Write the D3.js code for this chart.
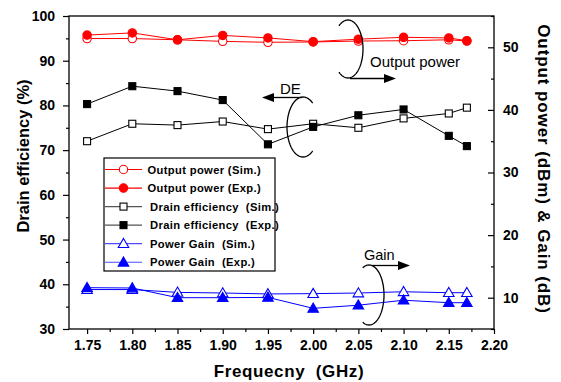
<!DOCTYPE html>
<html>
<head>
<meta charset="utf-8">
<script src="https://cdn.jsdelivr.net/npm/d3@7"></script>
<style>
  html, body { margin: 0; padding: 0; background: #fff; }
  svg { display: block; font-family: Arial, "Liberation Sans", sans-serif; }
  text { white-space: pre; }
</style>
</head>
<body>
<svg id="chart" width="561" height="382"></svg>
<script>
// Frequency points (GHz)
const freqs = [1.75, 1.80, 1.85, 1.90, 1.95, 2.00, 2.05, 2.10, 2.15, 2.17];

// Output power (dBm), right axis
const poutSim = [51.4, 51.4, 51.2, 50.95, 50.8, 50.85, 51.0, 51.05, 51.2, 51.0];
const poutExp = [51.95, 52.3, 51.2, 51.9, 51.5, 50.9, 51.3, 51.6, 51.5, 51.05];

// Drain efficiency (%), left axis
const deSim = [72.0, 75.9, 75.6, 76.4, 74.7, 75.9, 75.0, 77.1, 78.2, 79.5];
const deExp = [80.3, 84.3, 83.2, 81.2, 71.3, 75.2, 77.8, 79.1, 73.2, 70.9];

// Power gain (dB), right axis
const gainSim = [11.3, 11.3, 10.85, 10.75, 10.6, 10.65, 10.75, 10.95, 10.8, 10.8];
const gainExp = [11.6, 11.55, 10.0, 10.0, 10.05, 8.3, 8.8, 9.6, 9.2, 9.2];

// Tick values
const xTicks = [1.75, 1.80, 1.85, 1.90, 1.95, 2.00, 2.05, 2.10, 2.15, 2.20];
const xMinor = [1.775, 1.825, 1.875, 1.925, 1.975, 2.025, 2.075, 2.125, 2.175];
const yLeftTicks = [30, 40, 50, 60, 70, 80, 90, 100];
const yLeftMinor = [35, 45, 55, 65, 75, 85, 95];
const yRightTicks = [10, 20, 30, 40, 50];
const yRightMinor = [5, 15, 25, 35, 45, 55];

const legendLabels = [
  "Output power (Sim.)", "Output power (Exp.)",
  "Drain efficiency  (Sim.)", "Drain efficiency  (Exp.)",
  "Power Gain  (Sim.)", "Power Gain  (Exp.)"
];

const svg = d3.select("#chart");
const L = 69, R = 494, T = 16, B = 329;

const x = d3.scaleLinear().domain([1.73, 2.20]).range([L, R]);
const yL = d3.scaleLinear().domain([30, 100]).range([B, T]);
const yR = d3.scaleLinear().domain([5, 55]).range([B, T]);

const RED = "#ff0000", BLUE = "#0000ff";

// ---- axes ----
function styleAxis(g) {
  g.select(".domain").remove();
  g.selectAll("line").attr("stroke", "#000").attr("stroke-width", 1.2);
  g.selectAll("text").attr("font-size", 14).attr("font-weight", "bold").attr("fill", "#000");
}

svg.append("g").attr("transform", `translate(0,${B})`)
  .call(d3.axisBottom(x).tickValues(xTicks).tickFormat(d3.format(".2f")).tickSize(5).tickPadding(6))
  .call(styleAxis);
svg.append("g").attr("transform", `translate(0,${B})`)
  .call(d3.axisBottom(x).tickValues(xMinor).tickFormat("").tickSize(3))
  .call(styleAxis);

svg.append("g").attr("transform", `translate(${L},0)`)
  .call(d3.axisLeft(yL).tickValues(yLeftTicks).tickFormat(d3.format("d")).tickSize(6).tickPadding(8))
  .call(styleAxis);
svg.append("g").attr("transform", `translate(${L},0)`)
  .call(d3.axisLeft(yL).tickValues(yLeftMinor).tickFormat("").tickSize(3))
  .call(styleAxis);

svg.append("g").attr("transform", `translate(${R},0)`)
  .call(d3.axisRight(yR).tickValues(yRightTicks).tickFormat(d3.format("d")).tickSizeInner(-6).tickSizeOuter(0).tickPadding(9))
  .call(styleAxis);
svg.append("g").attr("transform", `translate(${R},0)`)
  .call(d3.axisRight(yR).tickValues(yRightMinor).tickFormat("").tickSizeInner(-3).tickSizeOuter(0))
  .call(styleAxis);

// plot frame
svg.append("rect").attr("x", L).attr("y", T).attr("width", R - L).attr("height", B - T)
  .attr("fill", "none").attr("stroke", "#000").attr("stroke-width", 1.3);

// ---- axis titles ----
svg.append("text")
  .attr("transform", `translate(29,156) rotate(-90)`)
  .attr("text-anchor", "middle").attr("font-size", 16.5).attr("font-weight", "bold")
  .text("Drain efficiency (%)");

svg.append("text")
  .attr("transform", `translate(538,169) rotate(90)`)
  .attr("text-anchor", "middle").attr("font-size", 17).attr("font-weight", "bold")
  .attr("letter-spacing", 0.9)
  .text("Output power (dBm) & Gain (dB)");

svg.append("text")
  .attr("x", 289).attr("y", 377)
  .attr("text-anchor", "middle").attr("font-size", 17).attr("font-weight", "bold")
  .attr("letter-spacing", 0.6)
  .text("Frequecny  (GHz)");

// ---- markers ----
const triPath = d3.symbol().type(d3.symbolTriangle).size(48)();
function marker(g, type, filled, color, cx, cy) {
  const fill = filled ? color : "#fff";
  if (type === "circle") {
    g.append("circle").attr("cx", cx).attr("cy", cy).attr("r", 4.2)
      .attr("fill", fill).attr("stroke", color).attr("stroke-width", 1.1);
  } else if (type === "square") {
    g.append("rect").attr("x", cx - 3.5).attr("y", cy - 3.5).attr("width", 7).attr("height", 7)
      .attr("fill", fill).attr("stroke", color).attr("stroke-width", 1.1);
  } else {
    g.append("path").attr("d", triPath).attr("transform", `translate(${cx},${cy + 0.8})`)
      .attr("fill", fill).attr("stroke", color).attr("stroke-width", 1.1);
  }
}

const series = [
  { vals: poutSim, y: yR, color: RED, type: "circle", filled: false, legendLine: RED },
  { vals: poutExp, y: yR, color: RED, type: "circle", filled: true, legendLine: RED },
  { vals: deSim, y: yL, color: "#000", type: "square", filled: false, legendLine: "#555" },
  { vals: deExp, y: yL, color: "#000", type: "square", filled: true, legendLine: "#555" },
  { vals: gainSim, y: yR, color: BLUE, type: "triangle", filled: false, legendLine: "#4d4dff" },
  { vals: gainExp, y: yR, color: BLUE, type: "triangle", filled: true, legendLine: "#4d4dff" }
];

const plot = svg.append("g");
series.forEach(s => {
  const line = d3.line().x((d, i) => x(freqs[i])).y(d => s.y(d));
  plot.append("path").datum(s.vals).attr("d", line)
    .attr("fill", "none").attr("stroke", s.color).attr("stroke-width", 1);
});
series.forEach(s => {
  const g = plot.append("g");
  s.vals.forEach((v, i) => marker(g, s.type, s.filled, s.color, x(freqs[i]), s.y(v)));
});

// ---- legend ----
const lg = svg.append("g");
lg.append("rect").attr("x", 104).attr("y", 158).attr("width", 171).attr("height", 113)
  .attr("fill", "#fff").attr("stroke", "#000").attr("stroke-width", 1.2);
series.forEach((s, i) => {
  const cy = 169.5 + i * 18.55;
  lg.append("line").attr("x1", 105).attr("x2", 142).attr("y1", cy).attr("y2", cy)
    .attr("stroke", s.legendLine).attr("stroke-width", 1.2);
  marker(lg, s.type, s.filled, s.color, 123.5, cy);
  lg.append("text").attr("x", i < 2 ? 147.5 : 150).attr("y", cy + 4)
    .attr("font-size", 11.2).attr("font-weight", "bold").attr("letter-spacing", 0.35)
    .text(legendLabels[i]);
});

// ---- annotations: rings with arrows ----
const ann = svg.append("g").attr("fill", "none").attr("stroke", "#000").attr("stroke-width", 1.3);

function ellArc(cx, cy, rx, ry, a0, a1) {
  const pts = d3.range(a0, a1 + 0.001, 2).map(a => {
    const t = a * Math.PI / 180;
    return [cx + rx * Math.cos(t), cy + ry * Math.sin(t)];
  });
  return d3.line()(pts);
}
function arrow(x1, y, x2) {
  ann.append("line").attr("x1", x1).attr("x2", x2 - Math.sign(x2 - x1) * 10).attr("y1", y).attr("y2", y);
  const dir = Math.sign(x2 - x1);
  svg.append("path")
    .attr("d", `M${x2},${y} L${x2 - dir * 12},${y - 4.5} L${x2 - dir * 12},${y + 4.5} Z`)
    .attr("fill", "#000");
}

// Output power ring (opens left), arrow to the right
ann.append("path").attr("d", ellArc(348, 49, 15, 29, -127, 127));
arrow(350, 78.5, 396);
svg.append("text").attr("x", 370).attr("y", 67).attr("font-size", 15).text("Output power");

// DE ring (opens right), arrow to the left
ann.append("path").attr("d", ellArc(303, 127, 16, 30, 53, 307));
arrow(302, 97.5, 262);
svg.append("text").attr("x", 280).attr("y", 93.5).attr("font-size", 15).text("DE");

// Gain ring (opens left), arrow to the right
ann.append("path").attr("d", ellArc(369, 295, 15, 30, -115, 115));
arrow(372, 265.5, 410);
svg.append("text").attr("x", 364).attr("y", 259.5).attr("font-size", 14.5).text("Gain");
</script>
</body>
</html>
